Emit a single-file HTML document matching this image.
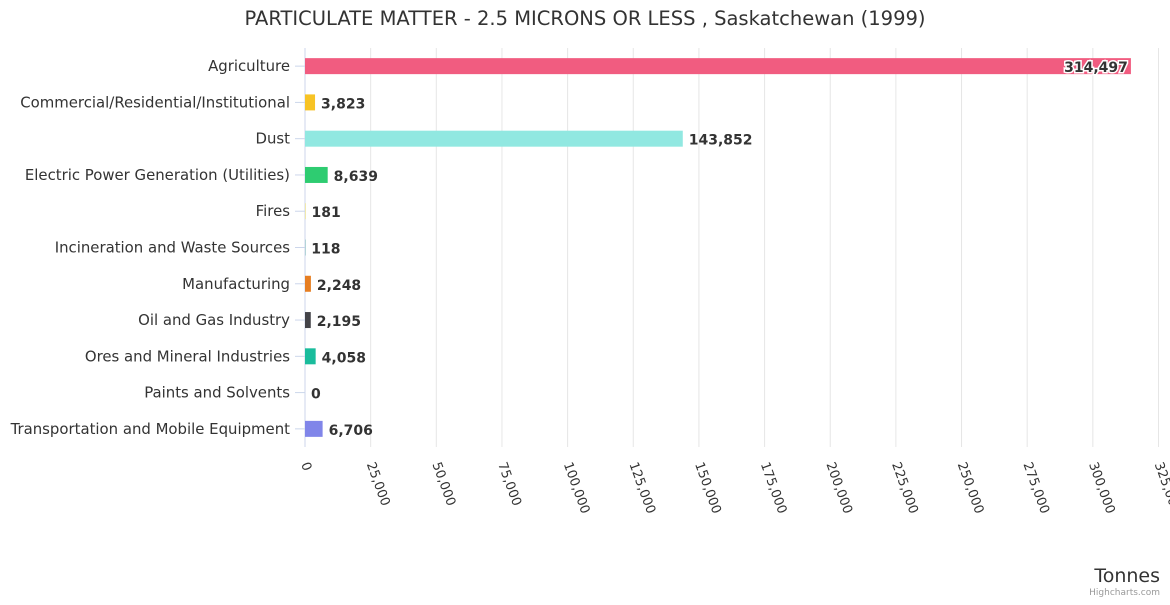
<!DOCTYPE html>
<html><head><meta charset="utf-8"><style>
body{margin:0;background:#fff;font-family:"Liberation Sans","DejaVu Sans",sans-serif;}
svg text{font-family:"DejaVu Sans","Liberation Sans",sans-serif;}
</style></head><body>
<svg id="c" width="1170" height="600"></svg>
<script>
const categories=["Agriculture","Commercial/Residential/Institutional","Dust","Electric Power Generation (Utilities)","Fires","Incineration and Waste Sources","Manufacturing","Oil and Gas Industry","Ores and Mineral Industries","Paints and Solvents","Transportation and Mobile Equipment"];
const values=[314497,3823,143852,8639,181,118,2248,2195,4058,0,6706];
const colors=["#f15c80","#f7c325","#91e8e1","#2ecc71","#e4d354","#2b908f","#e67e22","#434348","#1abc9c","#f45b5b","#8085e9"];
const ticks=[0,25000,50000,75000,100000,125000,150000,175000,200000,225000,250000,275000,300000,325000];
const NS="http://www.w3.org/2000/svg";
const svg=document.getElementById('c');
const L=305,R=1158.5,T=48,B=447,MAX=325000;
const x=v=>L+(v/MAX)*(R-L);
const step=(B-T)/categories.length;
const y=i=>T+step*(i+0.5);
function el(t,a,p){const e=document.createElementNS(NS,t);for(const k in a)e.setAttribute(k,a[k]);(p||svg).appendChild(e);return e;}
let t=el('text',{x:585,y:25,'text-anchor':'middle','font-size':19.5,fill:'#333'});


t.textContent='PARTICULATE MATTER - 2.5 MICRONS OR LESS , Saskatchewan (1999)';
ticks.forEach(v=>{
 const g=el('line',{x1:x(v),x2:x(v),y1:T,y2:B,stroke:v===0?'#ccd6eb':'#e6e6e6'});
 
 
 const tl=el('text',{transform:`translate(${x(v)-4},${B+17}) rotate(70)`,'font-size':13,fill:'#333'});
 
 
 tl.textContent=v.toLocaleString('en-US');
});
categories.forEach((c,i)=>{
 const cy=y(i);
 const tk=el('line',{x1:L-10,x2:L,y1:cy,y2:cy,stroke:'#ccd6eb'});
 
 
 const lb=el('text',{x:290,y:cy+5,'text-anchor':'end','font-size':14.9,fill:'#333'});
 
 
 lb.textContent=c;
 const w=x(values[i])-L;
 const b=el('rect',{x:L,y:cy-8,width:w,height:16,fill:colors[i]});
 
 
 const inside=x(values[i])+90>R;
 const vl=el('text',{x:inside?x(values[i])-3:x(values[i])+6,y:cy+6,'text-anchor':inside?'end':'start','font-size':14,'font-weight':'bold',fill:'#333',stroke:'#fff','stroke-width':inside?3:0,'paint-order':'stroke'});
 
 
 vl.textContent=values[i].toLocaleString('en-US');
});
const at=el('text',{x:1160,y:582,'text-anchor':'end','font-size':19,fill:'#333'});


at.textContent='Tonnes';
const cr=el('text',{x:1160,y:595,'text-anchor':'end','font-size':9,fill:'#999'});


cr.textContent='Highcharts.com';
</script>
</body></html>
